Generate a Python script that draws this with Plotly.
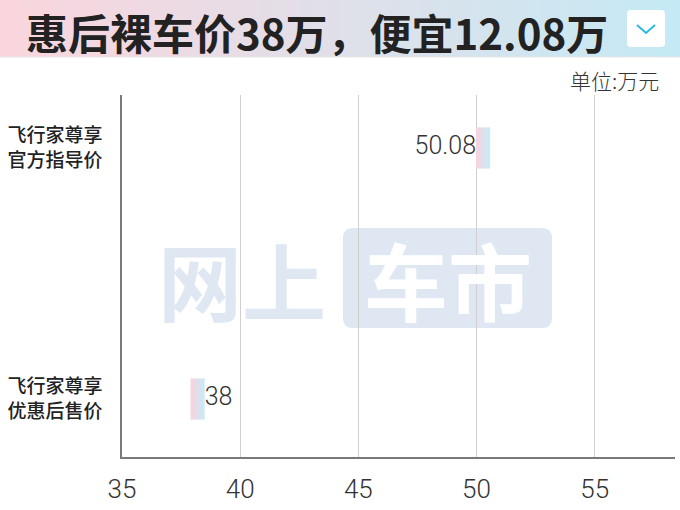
import plotly.graph_objects as go

# dados
categorias = ['飞行家尊享<br>官方指导价', '飞行家尊享<br>优惠后售价']
precos = [50.08, 38]
rotulos = ['50.08', '38']
x_ticks = [35, 40, 45, 50, 55]
titulo = '惠后裸车价38万，便宜12.08万'
unidade = '单位:万元'

# área do gráfico em pixels (figura 680x510)
L, R, T, B = 122, 675, 95, 457


def px_x(p):
    return (p - L) / (R - L)


def px_y(p):
    return (B - p) / (B - T)


pos_y = [len(categorias) - 1 - i for i in range(len(categorias))]
meia_altura = 0.082

fig = go.Figure()

# barras curtas com degradê rosa -> azul
for v, y in zip(precos, pos_y):
    fig.add_trace(go.Scatter(
        x=[v - 0.1, v + 0.5, v + 0.5, v - 0.1, v - 0.1],
        y=[y - meia_altura, y - meia_altura, y + meia_altura, y + meia_altura, y - meia_altura],
        mode='lines',
        line=dict(width=0),
        fill='toself',
        fillgradient=dict(type='horizontal',
                          colorscale=[[0, '#fad2dc'], [1, '#c6ebf8']]),
        hoverinfo='skip',
        showlegend=False,
    ))

# rótulos de valor
fig.add_trace(go.Scatter(
    x=[precos[0] - 0.1, precos[1] + 0.5],
    y=pos_y,
    mode='text',
    text=rotulos,
    textposition=['middle left', 'middle right'],
    textfont=dict(family='Roboto', size=25, color='#333333', weight=300),
    showlegend=False,
))

shapes = []

# faixa do título em degradê
n = 68
c0, c1 = (250, 213, 221), (197, 234, 245)
for i in range(n):
    t = i / (n - 1)
    cor = 'rgb(%d,%d,%d)' % tuple(round(a + (b - a) * t) for a, b in zip(c0, c1))
    shapes.append(dict(type='rect', xref='paper', yref='paper', layer='below',
                       x0=px_x(i * 680 / n), x1=px_x((i + 1) * 680 / n + 0.5),
                       y0=px_y(57), y1=px_y(0), line=dict(width=0), fillcolor=cor))
shapes.append(dict(type='line', xref='paper', yref='paper', layer='below',
                   x0=px_x(0), x1=px_x(680), y0=px_y(57), y1=px_y(57),
                   line=dict(color='#e6e6e6', width=1)))


# caixa branca do ícone
def ret_arredondado(x0, y0, x1, y1, r):
    X0, X1 = px_x(x0), px_x(x1)
    Y0, Y1 = px_y(y1), px_y(y0)
    rx = r / (R - L)
    ry = r / (B - T)
    return ('M %f,%f L %f,%f Q %f,%f %f,%f L %f,%f Q %f,%f %f,%f L %f,%f Q %f,%f %f,%f '
            'L %f,%f Q %f,%f %f,%f Z') % (
        X0 + rx, Y0, X1 - rx, Y0, X1, Y0, X1, Y0 + ry, X1, Y1 - ry, X1, Y1, X1 - rx, Y1,
        X0 + rx, Y1, X0, Y1, X0, Y1 - ry, X0, Y0 + ry, X0, Y0, X0 + rx, Y0)


shapes.append(dict(type='path', xref='paper', yref='paper', layer='above',
                   path=ret_arredondado(627, 10, 665, 47, 4),
                   fillcolor='white', line=dict(width=0)))
shapes.append(dict(type='path', xref='paper', yref='paper', layer='above',
                   path='M %f,%f L %f,%f L %f,%f' % (px_x(637), px_y(25), px_x(646), px_y(33),
                                                    px_x(655), px_y(25)),
                   line=dict(color='#2bb8e3', width=2)))

# marca d'água
shapes.append(dict(type='path', xref='paper', yref='paper', layer='below',
                   path=ret_arredondado(343, 228, 552, 328, 10),
                   fillcolor='#dfe7f3', line=dict(width=0)))

annotations = [
    dict(text='<b>' + titulo + '</b>', xref='paper', yref='paper',
         x=px_x(24), y=px_y(31), xanchor='left', yanchor='middle', showarrow=False,
         font=dict(family='Noto Sans CJK SC', size=42, color='#222222')),
    dict(text=unidade, xref='paper', yref='paper',
         x=px_x(661), y=px_y(80), xanchor='right', yanchor='middle', showarrow=False,
         font=dict(family='Noto Sans CJK SC', size=21, color='#333333', weight=300)),
    dict(text='<b>网上</b>', xref='paper', yref='paper',
         x=px_x(242), y=px_y(278), xanchor='center', yanchor='middle', showarrow=False,
         font=dict(family='Noto Sans CJK SC', size=84, color='#dfe7f3')),
    dict(text='<b>车市</b>', xref='paper', yref='paper',
         x=px_x(448), y=px_y(278), xanchor='center', yanchor='middle', showarrow=False,
         font=dict(family='Noto Sans CJK SC', size=84, color='white')),
]

fig.update_layout(
    width=680,
    height=510,
    margin=dict(l=L, r=680 - R, t=T, b=510 - B),
    paper_bgcolor='white',
    plot_bgcolor='rgba(0,0,0,0)',
    shapes=shapes,
    annotations=annotations,
    xaxis=dict(
        range=[35, 58.4],
        tickvals=x_ticks,
        ticktext=[str(v) for v in x_ticks],
        showgrid=True,
        gridcolor='#cfcfcf',
        gridwidth=1,
        zeroline=False,
        showline=True,
        linecolor='#7a7a7a',
        linewidth=1.5,
        ticks='outside',
        ticklen=8,
        tickcolor='rgba(0,0,0,0)',
        tickfont=dict(family='Roboto', size=26, color='#333333', weight=300),
        automargin=False,
        fixedrange=True,
    ),
    yaxis=dict(
        range=[-0.231, 1.211],
        tickvals=pos_y,
        ticktext=categorias,
        showgrid=False,
        zeroline=False,
        showline=True,
        linecolor='#7a7a7a',
        linewidth=1.5,
        ticks='outside',
        ticklen=14,
        tickcolor='rgba(0,0,0,0)',
        tickfont=dict(family='Noto Sans CJK SC', size=19, color='#222222', weight=500),
        automargin=False,
        fixedrange=True,
    ),
    showlegend=False,
)

# tirar a margem padrão do body para a figura ocupar a janela toda
fig.write_html('out.html', config={'displayModeBar': False},
               post_script="document.body.style.margin='0';")
